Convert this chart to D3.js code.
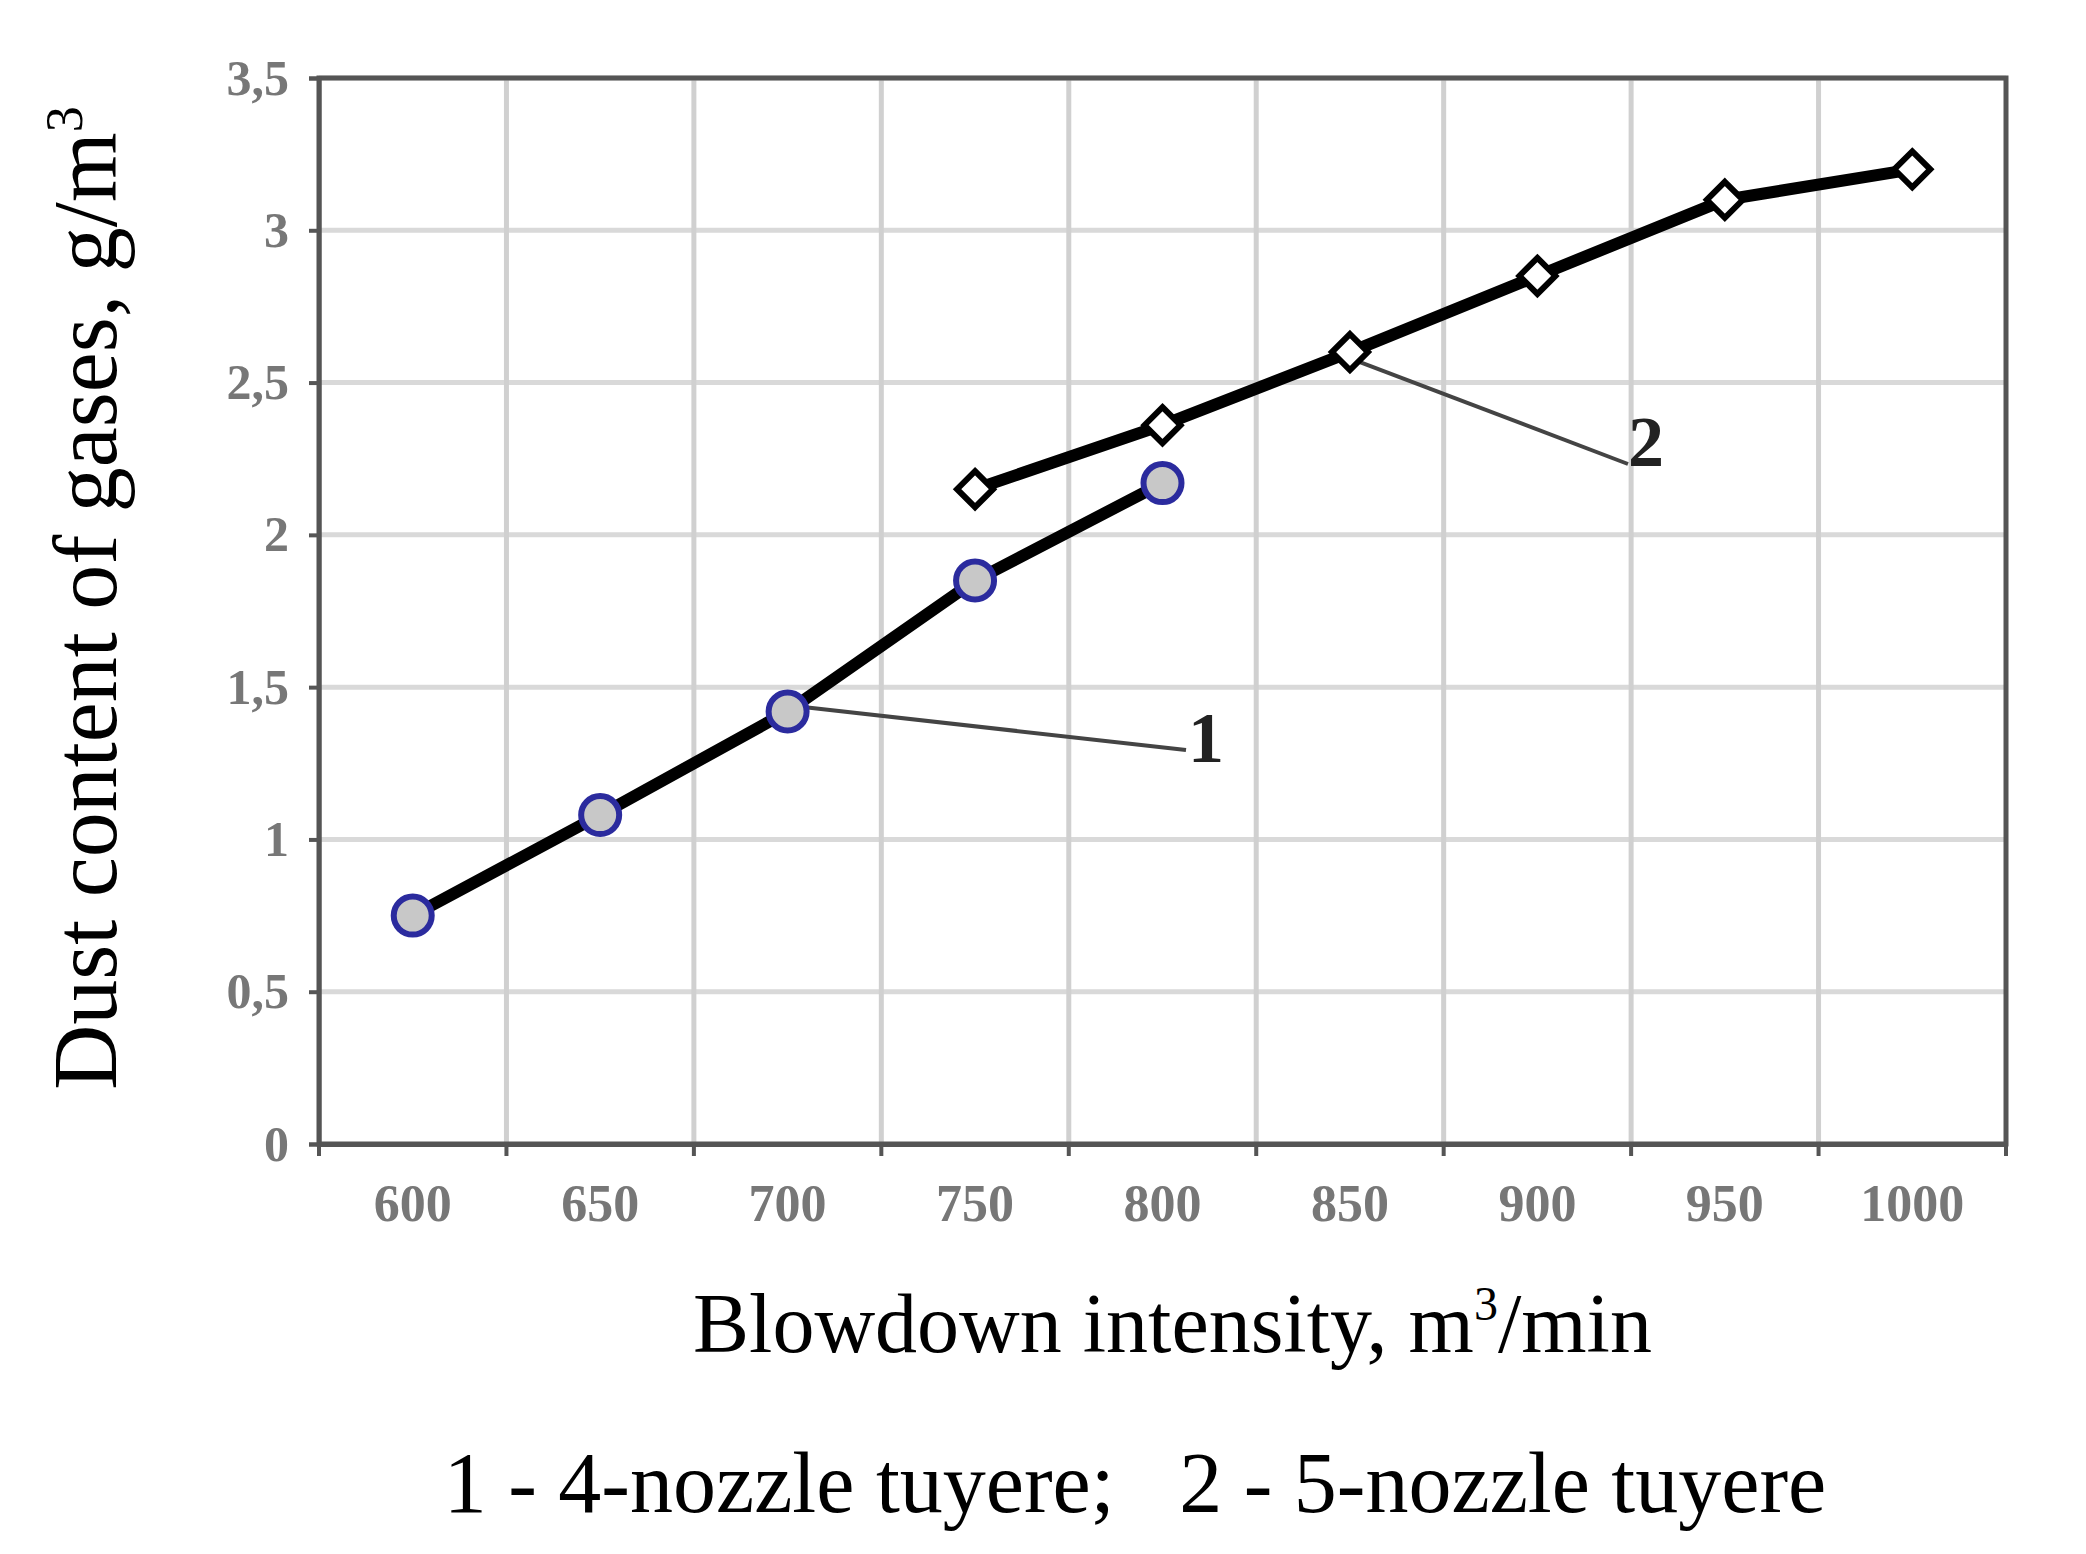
<!DOCTYPE html>
<html><head><meta charset="utf-8">
<script src="https://cdn.jsdelivr.net/npm/d3@7"></script>
<style>body{margin:0;background:#fff}</style></head>
<body><div id="vis"></div>
<script>
const categories = ["600","650","700","750","800","850","900","950","1000"];
const yTicks = [0, 0.5, 1, 1.5, 2, 2.5, 3, 3.5];
const yTickLabels = ["0","0,5","1","1,5","2","2,5","3","3,5"];
const series1X = ["600","650","700","750","800"];
const series1Y = [0.75, 1.08, 1.42, 1.85, 2.17];
const series2X = ["750","800","850","900","950","1000"];
const series2Y = [2.15, 2.36, 2.6, 2.85, 3.1, 3.2];

const W = 2086, H = 1554;
const m = { left: 319, right: 80, top: 78, bottom: 410 };
const svg = d3.select("#vis").append("svg").attr("width", W).attr("height", H);

const X = d3.scaleBand().domain(categories).range([m.left, W - m.right]);
const Y = d3.scaleLinear().domain([0, 3.5]).range([H - m.bottom, m.top]);
const cx = c => X(c) + X.bandwidth() / 2;

// grid
svg.selectAll(".hg").data(yTicks.slice(1)).enter().append("line")
  .attr("x1", m.left).attr("x2", W - m.right)
  .attr("y1", d => Y(d)).attr("y2", d => Y(d))
  .attr("stroke", "#d9d9d9").attr("stroke-width", 5);
svg.selectAll(".vg").data(categories.slice(1)).enter().append("line")
  .attr("x1", d => X(d)).attr("x2", d => X(d))
  .attr("y1", m.top).attr("y2", H - m.bottom)
  .attr("stroke", "#d0d0d0").attr("stroke-width", 5);

svg.append("rect").attr("x", m.left).attr("y", m.top)
  .attr("width", W - m.left - m.right).attr("height", H - m.top - m.bottom)
  .attr("fill", "none").attr("stroke", "#555").attr("stroke-width", 5);

// axes
const yAx = svg.append("g").attr("transform", `translate(${m.left},0)`)
  .call(d3.axisLeft(Y).tickValues(yTicks).tickFormat((d, i) => yTickLabels[i]).tickSize(10).tickPadding(20));
yAx.selectAll("text").attr("font-family", "Liberation Serif").attr("font-size", 50).attr("font-weight", "bold").attr("fill", "#777");
yAx.selectAll("line,path").attr("stroke", "#555").attr("stroke-width", 4);

const xAx = svg.append("g").attr("transform", `translate(0,${H - m.bottom})`)
  .call(d3.axisBottom(X).tickSize(0).tickPadding(40));
xAx.selectAll("text").attr("font-family", "Liberation Serif").attr("font-size", 52).attr("font-weight", "bold").attr("fill", "#777");
xAx.select("path").attr("stroke", "#555").attr("stroke-width", 5);
xAx.selectAll(".edge").data(categories.concat([""])).enter().append("line")
  .attr("x1", (d, i) => m.left + i * X.bandwidth()).attr("x2", (d, i) => m.left + i * X.bandwidth())
  .attr("y1", 0).attr("y2", 12).attr("stroke", "#555").attr("stroke-width", 4);

// leader lines
svg.append("line").attr("x1", cx("700") + 20).attr("y1", Y(1.42) - 4)
  .attr("x2", 1186).attr("y2", 750).attr("stroke", "#444").attr("stroke-width", 4);
svg.append("line").attr("x1", cx("850") + 10).attr("y1", Y(2.6) + 10)
  .attr("x2", 1628).attr("y2", 464).attr("stroke", "#444").attr("stroke-width", 4);
svg.append("text").attr("x", 1188).attr("y", 762).text("1")
  .attr("font-family", "Liberation Serif").attr("font-size", 72).attr("font-weight", "bold").attr("fill", "#222");
svg.append("text").attr("x", 1628).attr("y", 466).text("2")
  .attr("font-family", "Liberation Serif").attr("font-size", 72).attr("font-weight", "bold").attr("fill", "#222");

// lines
const line = d3.line().x(d => cx(d[0])).y(d => Y(d[1]));
const s1 = series1X.map((c, i) => [c, series1Y[i]]);
const s2 = series2X.map((c, i) => [c, series2Y[i]]);
[s1, s2].forEach(s => svg.append("path").datum(s).attr("d", line)
  .attr("fill", "none").attr("stroke", "#000").attr("stroke-width", 12));

svg.selectAll(".c1").data(s1).enter().append("circle")
  .attr("cx", d => cx(d[0])).attr("cy", d => Y(d[1])).attr("r", 19)
  .attr("fill", "#c8c8c8").attr("stroke", "#2b2b9e").attr("stroke-width", 6);
svg.selectAll(".d2").data(s2).enter().append("path")
  .attr("transform", d => `translate(${cx(d[0])},${Y(d[1])})`)
  .attr("d", "M0,-18L18,0L0,18L-18,0Z")
  .attr("fill", "#fff").attr("stroke", "#000").attr("stroke-width", 6);

// titles
const xt = svg.append("text").attr("x", (m.left + W - m.right) / 2 + 10).attr("y", 1352)
  .attr("text-anchor", "middle").attr("font-family", "Liberation Serif").attr("font-size", 84).attr("fill", "#000");
xt.append("tspan").text("Blowdown intensity, m");
xt.append("tspan").text("3").attr("font-size", 48).attr("dy", -32);
xt.append("tspan").text("/min").attr("dy", 32);

const yt = svg.append("text").attr("transform", "translate(116,598) rotate(-90)")
  .attr("text-anchor", "middle").attr("font-family", "Liberation Serif").attr("font-size", 90).attr("fill", "#000");
yt.append("tspan").text("Dust content of gases, g/m");
yt.append("tspan").text("3").attr("font-size", 52).attr("dy", -34);

svg.append("text").attr("x", 1135).attr("y", 1512).attr("text-anchor", "middle")
  .attr("font-family", "Liberation Serif").attr("font-size", 86).attr("fill", "#000")
  .attr("xml:space", "preserve").text("1 - 4-nozzle tuyere;   2 - 5-nozzle tuyere");
</script></body></html>
